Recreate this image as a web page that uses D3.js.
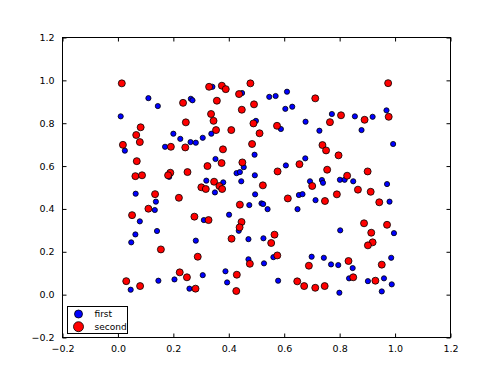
<!DOCTYPE html>
<html>
<head>
<meta charset="utf-8">
<script src="https://cdn.jsdelivr.net/npm/d3@7"></script>
<style>
  body { margin: 0; background: #fff; }
  text { font-family: "DejaVu Sans", sans-serif; fill: #000; }
</style>
</head>
<body>
<div id="chart"></div>
<script>
// Series "first" (blue, small markers)
const firstX = [0.341, 0.110, 0.144, 0.263, 0.269, 0.010, 0.200, 0.225, 0.262, 0.281,
  0.306, 0.337, 0.170, 0.025, 0.185, 0.319, 0.448, 0.546, 0.569, 0.610,
  0.604, 0.629, 0.498, 0.588, 0.677, 0.727, 0.352, 0.493, 0.454, 0.428,
  0.440, 0.606, 0.676, 0.494, 0.445, 0.380, 0.693, 0.736, 0.740, 0.772,
  0.855, 0.919, 0.969, 0.879, 0.993, 0.801, 0.818, 0.849, 0.971, 0.064,
  0.350, 0.137, 0.133, 0.079, 0.310, 0.141, 0.063, 0.048, 0.281, 0.306,
  0.204, 0.146, 0.258, 0.046, 0.495, 0.653, 0.666, 0.713, 0.474, 0.518,
  0.524, 0.540, 0.648, 0.401, 0.436, 0.471, 0.525, 0.561, 0.471, 0.527,
  0.699, 0.743, 0.388, 0.394, 0.578, 0.980, 0.802, 0.996, 0.769, 0.795,
  0.847, 0.986, 0.834, 0.902, 0.960, 0.988, 0.799, 0.952];
const firstY = [0.970, 0.917, 0.880, 0.914, 0.907, 0.832, 0.751, 0.727, 0.712, 0.709,
  0.732, 0.751, 0.690, 0.672, 0.550, 0.532, 0.941, 0.923, 0.927, 0.947,
  0.867, 0.877, 0.811, 0.773, 0.807, 0.765, 0.633, 0.653, 0.595, 0.567,
  0.572, 0.603, 0.636, 0.557, 0.529, 0.524, 0.529, 0.535, 0.522, 0.843,
  0.832, 0.830, 0.860, 0.768, 0.703, 0.536, 0.536, 0.529, 0.516, 0.471,
  0.477, 0.434, 0.395, 0.342, 0.348, 0.297, 0.281, 0.244, 0.252, 0.091,
  0.071, 0.065, 0.028, 0.023, 0.468, 0.465, 0.469, 0.441, 0.418, 0.426,
  0.423, 0.399, 0.399, 0.373, 0.298, 0.259, 0.263, 0.175, 0.165, 0.146,
  0.177, 0.172, 0.109, 0.057, 0.065, 0.434, 0.300, 0.287, 0.141, 0.138,
  0.124, 0.172, 0.076, 0.063, 0.076, 0.048, 0.009, 0.015];

// Series "second" (red, larger markers)
const secondX = [0.014, 0.329, 0.235, 0.357, 0.336, 0.345, 0.245, 0.354, 0.082, 0.066,
  0.079, 0.018, 0.191, 0.243, 0.068, 0.323, 0.189, 0.181, 0.251, 0.063,
  0.087, 0.347, 0.375, 0.389, 0.478, 0.437, 0.491, 0.447, 0.712, 0.489,
  0.574, 0.409, 0.511, 0.484, 0.379, 0.738, 0.751, 0.449, 0.374, 0.655,
  0.576, 0.975, 0.805, 0.890, 0.977, 0.765, 0.796, 0.755, 0.827, 0.901,
  0.301, 0.317, 0.134, 0.220, 0.110, 0.051, 0.276, 0.327, 0.155, 0.288,
  0.223, 0.249, 0.030, 0.080, 0.280, 0.366, 0.376, 0.523, 0.701, 0.440,
  0.613, 0.446, 0.439, 0.410, 0.565, 0.553, 0.575, 0.476, 0.689, 0.429,
  0.427, 0.647, 0.672, 0.712, 0.746, 0.790, 0.866, 0.912, 0.747, 0.943,
  0.888, 0.971, 0.914, 0.919, 0.902, 0.832, 0.952, 0.849, 0.929];
const secondY = [0.986, 0.970, 0.895, 0.905, 0.843, 0.811, 0.804, 0.768, 0.781, 0.745,
  0.712, 0.699, 0.690, 0.687, 0.623, 0.600, 0.569, 0.557, 0.572, 0.553,
  0.557, 0.527, 0.975, 0.959, 0.986, 0.936, 0.888, 0.863, 0.916, 0.799,
  0.788, 0.768, 0.753, 0.703, 0.678, 0.698, 0.673, 0.617, 0.614, 0.609,
  0.575, 0.987, 0.837, 0.816, 0.830, 0.805, 0.650, 0.583, 0.555, 0.575,
  0.501, 0.493, 0.469, 0.452, 0.401, 0.371, 0.364, 0.348, 0.211, 0.177,
  0.104, 0.081, 0.063, 0.040, 0.028, 0.507, 0.493, 0.510, 0.507, 0.420,
  0.449, 0.339, 0.314, 0.261, 0.280, 0.241, 0.183, 0.144, 0.135, 0.093,
  0.017, 0.062, 0.040, 0.032, 0.040, 0.468, 0.490, 0.480, 0.437, 0.431,
  0.333, 0.326, 0.289, 0.244, 0.230, 0.157, 0.140, 0.081, 0.065];

const xTicks = [-0.2, 0.0, 0.2, 0.4, 0.6, 0.8, 1.0, 1.2];
const yTicks = [-0.2, 0.0, 0.2, 0.4, 0.6, 0.8, 1.0, 1.2];
const seriesNames = ["first", "second"];
const seriesColors = ["#0000ff", "#ff0000"];

(function() {
    const width = 500;
    const height = 375;
    const left = 62.5, right = 450.5, top = 37.5, bottom = 337.5;

    const x = d3.scaleLinear().domain([-0.2, 1.2]).range([left, right]);
    const y = d3.scaleLinear().domain([-0.2, 1.2]).range([bottom, top]);
    const fmt = d3.format(".1f");

    const svg = d3.select("#chart").append("svg")
        .attr("width", width)
        .attr("height", height);

    const first = firstX.map((v, i) => ({x: v, y: firstY[i]}));
    const second = secondX.map((v, i) => ({x: v, y: secondY[i]}));

    // points: first series under second
    svg.append("g").selectAll("circle")
        .data(first)
        .join("circle")
        .attr("cx", d => x(d.x))
        .attr("cy", d => y(d.y))
        .attr("r", 2.6)
        .attr("fill", seriesColors[0])
        .attr("stroke", "#000")
        .attr("stroke-width", 0.8);

    svg.append("g").selectAll("circle")
        .data(second)
        .join("circle")
        .attr("cx", d => x(d.x))
        .attr("cy", d => y(d.y))
        .attr("r", 3.5)
        .attr("fill", seriesColors[1])
        .attr("stroke", "#000")
        .attr("stroke-width", 0.8);

    // axes with inward ticks on all four sides
    const tickLen = 4;
    const ax = (g) => {
        g.select(".domain").remove();
        g.selectAll(".tick line").attr("stroke", "#000").attr("stroke-width", 1);
        g.selectAll(".tick text")
            .style("font-size", "9.5px")
            .style("font-family", "DejaVu Sans");
    };

    svg.append("g")
        .attr("transform", `translate(0,${bottom})`)
        .call(d3.axisBottom(x).tickValues(xTicks).tickFormat(fmt)
            .tickSizeInner(-tickLen).tickSizeOuter(0).tickPadding(8))
        .call(ax);
    svg.append("g")
        .attr("transform", `translate(0,${top})`)
        .call(d3.axisTop(x).tickValues(xTicks).tickFormat("")
            .tickSizeInner(-tickLen).tickSizeOuter(0))
        .call(ax);
    svg.append("g")
        .attr("transform", `translate(${left},0)`)
        .call(d3.axisLeft(y).tickValues(yTicks).tickFormat(fmt)
            .tickSizeInner(-tickLen).tickSizeOuter(0).tickPadding(8))
        .call(ax);
    svg.append("g")
        .attr("transform", `translate(${right},0)`)
        .call(d3.axisRight(y).tickValues(yTicks).tickFormat("")
            .tickSizeInner(-tickLen).tickSizeOuter(0))
        .call(ax);

    // frame
    svg.append("rect")
        .attr("x", left).attr("y", top)
        .attr("width", right - left).attr("height", bottom - top)
        .attr("fill", "none")
        .attr("stroke", "#000")
        .attr("stroke-width", 1);

    // legend (lower left)
    const legend = svg.append("g").attr("transform", "translate(67.5,306.5)");
    legend.append("rect")
        .attr("width", 60).attr("height", 27)
        .attr("fill", "#fff")
        .attr("stroke", "#000")
        .attr("stroke-width", 1);
    const radii = [4, 5];
    seriesNames.forEach((name, i) => {
        const row = legend.append("g").attr("transform", `translate(11,${7.5 + i * 12.7})`);
        row.append("circle")
            .attr("r", radii[i])
            .attr("fill", seriesColors[i])
            .attr("stroke", "#000")
            .attr("stroke-width", 0.8);
        row.append("text")
            .attr("x", 16)
            .attr("dy", "0.35em")
            .style("font-size", "9px")
            .text(name);
    });
})();
</script>
</body>
</html>
